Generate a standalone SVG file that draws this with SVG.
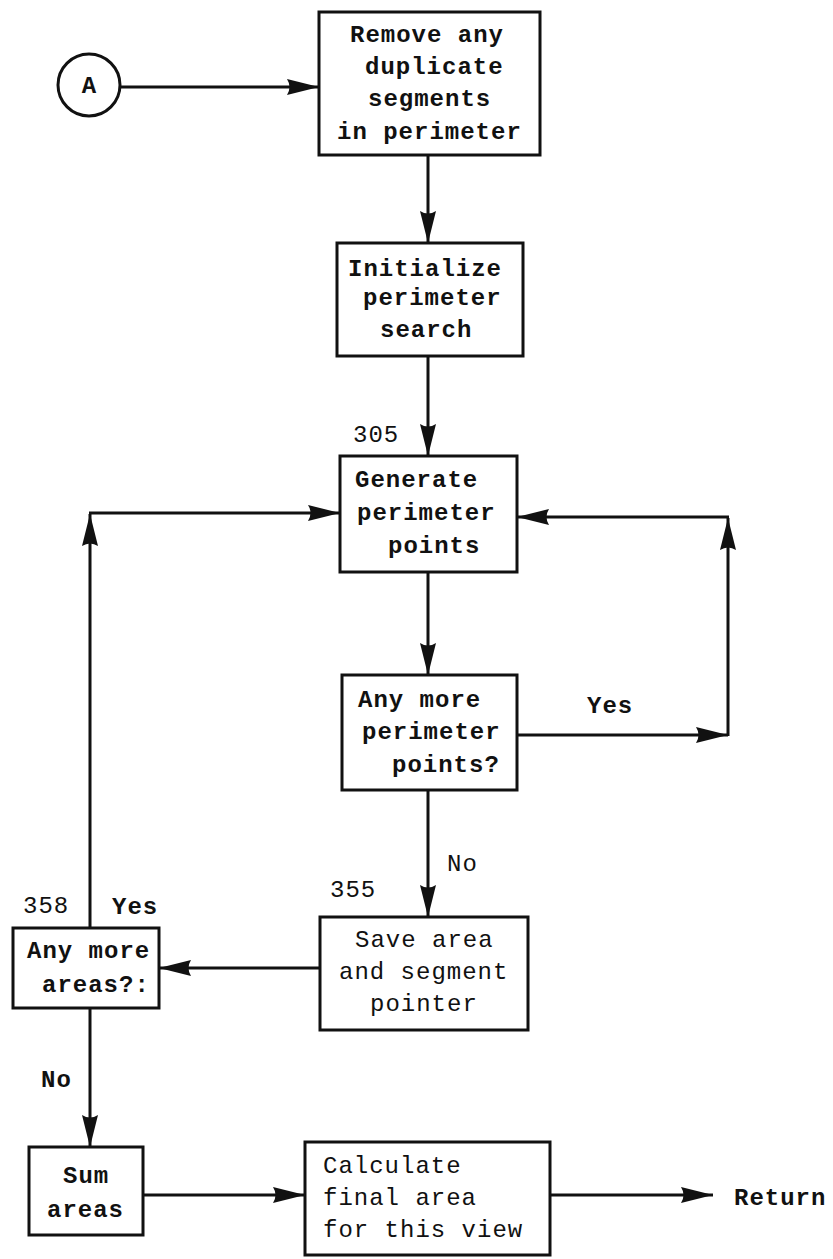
<svg xmlns="http://www.w3.org/2000/svg" width="833" height="1259" viewBox="0 0 833 1259">
<style>
.box{fill:none;stroke:#111;stroke-width:3}
.ln{fill:none;stroke:#111;stroke-width:3}
text{font-family:"Liberation Mono","DejaVu Sans Mono",monospace;font-size:24px;letter-spacing:1px;fill:#111}
.b{font-weight:bold}
</style>
<defs>
<marker id="ah" viewBox="0 0 32 18" refX="32" refY="9" markerWidth="32" markerHeight="18" markerUnits="userSpaceOnUse" orient="auto">
<path d="M0,1 L32,9 L0,17 Q5,9 0,1 z" fill="#111"/>
</marker>
</defs>
<rect width="833" height="1259" fill="#fff"/>
<g id="connectors">
<line class="ln" x1="120" y1="87" x2="319" y2="87" marker-end="url(#ah)"/>
<line class="ln" x1="428" y1="155" x2="428" y2="243" marker-end="url(#ah)"/>
<line class="ln" x1="428" y1="356" x2="428" y2="456" marker-end="url(#ah)"/>
<line class="ln" x1="428" y1="572" x2="428" y2="675" marker-end="url(#ah)"/>
<line class="ln" x1="517" y1="735" x2="728" y2="735" marker-end="url(#ah)"/>
<line class="ln" x1="728" y1="736" x2="728" y2="518" marker-end="url(#ah)"/>
<line class="ln" x1="729" y1="517" x2="517" y2="517" marker-end="url(#ah)"/>
<line class="ln" x1="428" y1="790" x2="428" y2="917" marker-end="url(#ah)"/>
<line class="ln" x1="320" y1="968" x2="159" y2="968" marker-end="url(#ah)"/>
<line class="ln" x1="90" y1="928" x2="90" y2="514" marker-end="url(#ah)"/>
<line class="ln" x1="89" y1="513" x2="340" y2="513" marker-end="url(#ah)"/>
<line class="ln" x1="90" y1="1008" x2="90" y2="1147" marker-end="url(#ah)"/>
<line class="ln" x1="143" y1="1195" x2="305" y2="1195" marker-end="url(#ah)"/>
<line class="ln" x1="550" y1="1195" x2="713" y2="1195" marker-end="url(#ah)"/>
</g>
<g id="nodeA">
<circle cx="89" cy="85" r="31" class="box"/>
<text x="89" y="93" class="b" text-anchor="middle" style="font-size:24px;letter-spacing:0">A</text>
</g>
<g id="remove">
<rect x="319" y="12" width="221" height="143" class="box"/>
<text x="350" y="42" class="b">Remove any</text>
<text x="365" y="74" class="b">duplicate</text>
<text x="368" y="106" class="b">segments</text>
<text x="337" y="139" class="b">in perimeter</text>
</g>
<g id="init">
<rect x="337" y="243" width="186" height="113" class="box"/>
<text x="348" y="276" class="b">Initialize</text>
<text x="363" y="305" class="b">perimeter</text>
<text x="380" y="337" class="b">search</text>
</g>
<g id="generate">
<text x="353" y="442">305</text>
<rect x="340" y="456" width="177" height="116" class="box"/>
<text x="355" y="487" class="b">Generate</text>
<text x="357" y="520" class="b">perimeter</text>
<text x="388" y="553" class="b">points</text>
</g>
<g id="anypoints">
<rect x="342" y="675" width="175" height="115" class="box"/>
<text x="358" y="707" class="b">Any more</text>
<text x="362" y="739" class="b">perimeter</text>
<text x="392" y="772" class="b">points?</text>
<text x="587" y="713" class="b">Yes</text>
<text x="447" y="871">No</text>
</g>
<g id="save">
<text x="330" y="897">355</text>
<rect x="320" y="917" width="208" height="113" class="box"/>
<text x="355" y="947">Save area</text>
<text x="339" y="979">and segment</text>
<text x="370" y="1011">pointer</text>
</g>
<g id="anyareas">
<text x="23" y="913">358</text>
<text x="112" y="914" class="b">Yes</text>
<rect x="13" y="928" width="146" height="80" class="box"/>
<text x="27" y="958" class="b">Any more</text>
<text x="42" y="992" class="b">areas?:</text>
<text x="41" y="1087" class="b">No</text>
</g>
<g id="sum">
<rect x="29" y="1147" width="114" height="88" class="box"/>
<text x="63" y="1183" class="b">Sum</text>
<text x="47" y="1217" class="b">areas</text>
</g>
<g id="calculate">
<rect x="305" y="1142" width="245" height="113" class="box"/>
<text x="323" y="1173">Calculate</text>
<text x="323" y="1205">final area</text>
<text x="323" y="1237">for this view</text>
</g>
<g id="return">
<text x="734" y="1205" class="b">Return</text>
</g>
</svg>
